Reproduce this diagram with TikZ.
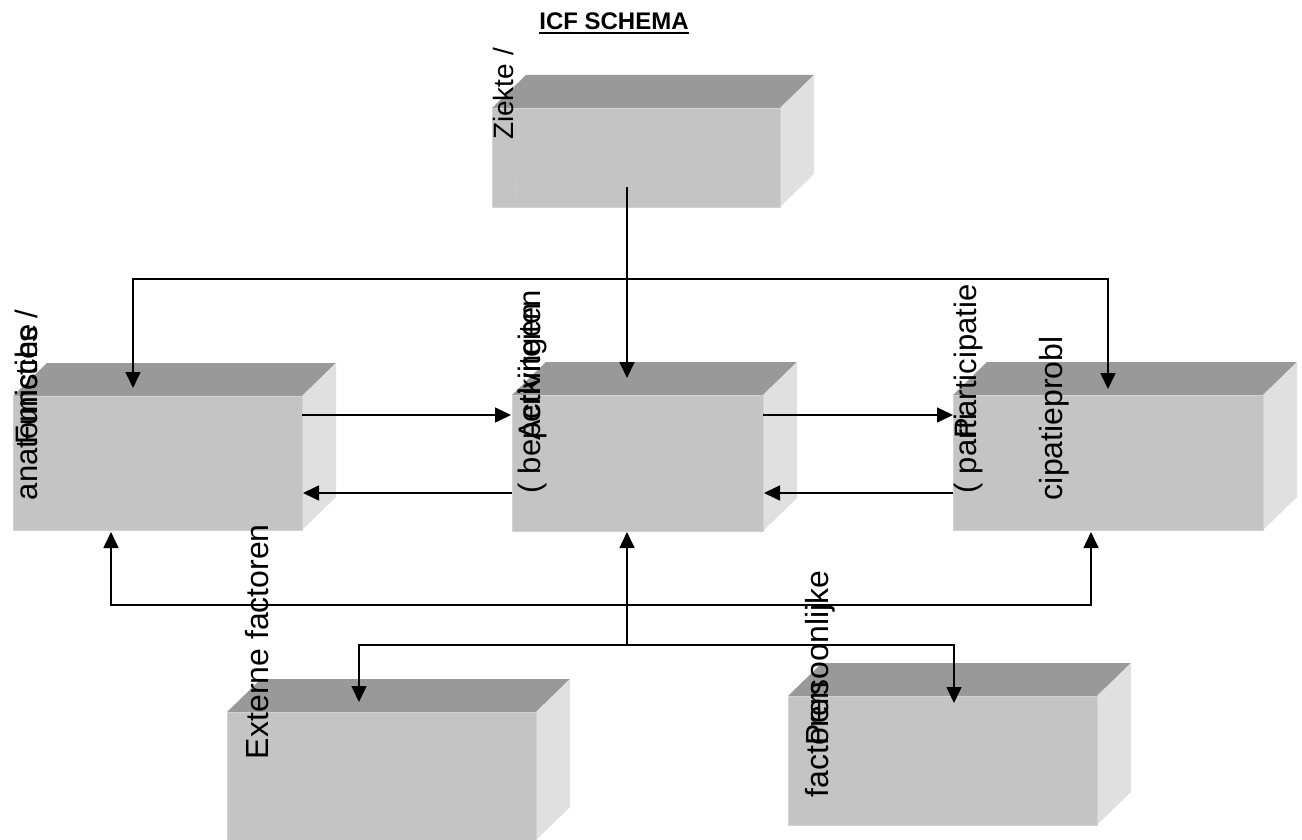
\documentclass[tikz,border=0pt]{standalone}
\usepackage{fontspec}
\setmainfont{Liberation Sans}
\usetikzlibrary{arrows.meta}
\definecolor{frontc}{HTML}{C4C4C4}
\definecolor{topc}{HTML}{999999}
\definecolor{sidec}{HTML}{E0E0E0}
\definecolor{edgec}{HTML}{D2D2D2}
\newcommand\fsz[1]{\fontsize{#1}{#1}\selectfont}
\newcommand\cuboidfaces[1]{%
  \fill[topc] (#1.north west) -- ++(34,-33) -- ([shift={(34,-33)}]#1.north east) -- (#1.north east) -- cycle;
  \fill[sidec] (#1.north east) -- ++(34,-33) -- ([shift={(34,-33)}]#1.south east) -- (#1.south east) -- cycle;
  \draw[edgec, line width=0.8pt] (#1.north west) rectangle (#1.south east);
}
\begin{document}
\begin{tikzpicture}[x=1pt,y=-1pt,
  face/.style={fill=frontc, draw=none, inner sep=0pt, outer sep=0pt, anchor=north west},
  conn/.style={line width=1.6pt, draw=black},
  arr/.style={conn, -{Triangle[length=16pt,width=15pt]}},
  darr/.style={conn, {Triangle[length=16pt,width=15pt]}-{Triangle[length=16pt,width=15pt]}},
  lbl/.style={rotate=90, anchor=base west, inner sep=0pt, outer sep=0pt, text=black},
]
\useasboundingbox (0,0) rectangle (1302,840);
\fill[white] (0,0) rectangle (1302,840);

% boxes (front faces as nodes)
\node[face, minimum width=288pt, minimum height=99pt]  (zi) at (492,108) {};
\node[face, minimum width=289pt, minimum height=134pt] (fu) at (13,396) {};
\node[face, minimum width=251pt, minimum height=136pt] (ac) at (512,395) {};
\node[face, minimum width=310pt, minimum height=135pt] (pa) at (953,395) {};
\node[face, minimum width=309pt, minimum height=128pt] (ex) at (227,712) {};
\node[face, minimum width=309pt, minimum height=129pt] (pe) at (788,696) {};
\cuboidfaces{zi}
\cuboidfaces{fu}
\cuboidfaces{ac}
\cuboidfaces{pa}
\cuboidfaces{ex}
\cuboidfaces{pe}

% faint mark in the Ziekte box
\draw[gray!35, line width=0.8pt, dash pattern=on 2pt off 3pt] (515,180) -- (515,198);

% connector points
\coordinate (z0) at (627,187);
\coordinate (z1) at (627,378);
\coordinate (tl) at (133,388);
\coordinate (tlc) at (133,279);
\coordinate (trc) at (1108,279);
\coordinate (tr) at (1108,389);
\coordinate (fa1) at (302,415);
\coordinate (af1) at (511,415);
\coordinate (ap1) at (763,415);
\coordinate (pa1) at (953,415);
\coordinate (af2) at (512,493);
\coordinate (fa2) at (303,493);
\coordinate (pa2) at (953,493);
\coordinate (ap2) at (764,493);
\coordinate (b0) at (627,645);
\coordinate (b1) at (627,532);
\coordinate (bl) at (111,532);
\coordinate (blc) at (111,605);
\coordinate (brc) at (1091,605);
\coordinate (br) at (1091,532);
\coordinate (el) at (359,702);
\coordinate (elc) at (359,645);
\coordinate (erc) at (954,645);
\coordinate (er) at (954,703);

% connectors
\draw[arr] (z0) -- (z1);
\draw[darr] (tl) -- (tlc) -- (trc) -- (tr);
\draw[arr] (fa1) -- (af1);
\draw[arr] (ap1) -- (pa1);
\draw[arr] (af2) -- (fa2);
\draw[arr] (pa2) -- (ap2);
\draw[arr] (b0) -- (b1);
\draw[darr] (bl) -- (blc) -- (brc) -- (br);
\draw[darr] (el) -- (elc) -- (erc) -- (er);

% title
\node[font=\bfseries\fsz{24}, anchor=base, inner sep=0pt] (title) at (614,30) {ICF SCHEMA};
\draw[line width=2pt] ([yshift=-3.5pt]title.base west) -- ([yshift=-3.5pt]title.base east);

% rotated labels
\node[lbl, font=\fsz{28}] (tzi) at (513,140) {Ziekte /};
\node[lbl, font=\fsz{31}] (tfu2) at (37,500) {anatomische};
\node[lbl, font=\fsz{31}] (tfu1) at (37,444) {Functies /};
\node[lbl, font=\fsz{31}] (tac2) at (540,493) {( beperkingen};
\node[lbl, font=\fsz{31}] (tac1) at (540,440) {Activiteiten};
\node[lbl, font=\fsz{31}] (tpa2) at (976,493) {( parti};
\node[lbl, font=\fsz{31}] (tpa1) at (976,438) {Participatie};
\node[lbl, font=\fsz{32}] (tpa3) at (1062,500) {cipatieprobl};
\node[lbl, font=\fsz{32}] (tex) at (268,759) {Externe factoren};
\node[lbl, font=\fsz{32}] (tpe2) at (828,797) {factoren};
\node[lbl, font=\fsz{32}] (tpe1) at (828,745) {Persoonlijke};
\end{tikzpicture}
\end{document}
